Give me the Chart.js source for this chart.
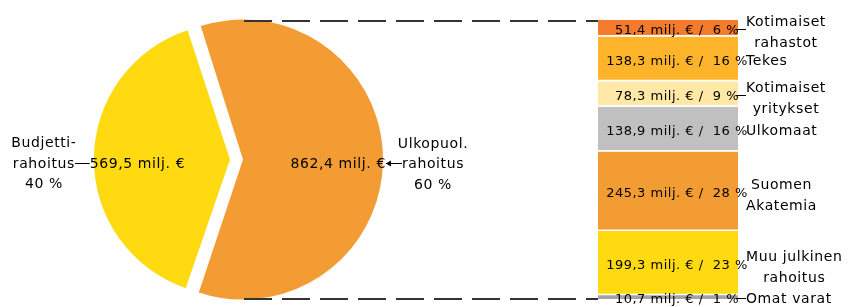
<!DOCTYPE html>
<html>
<head>
<meta charset="utf-8">
<script src="https://cdn.jsdelivr.net/npm/chart.js@4.4.1/dist/chart.umd.min.js"></script>
<style>
  html, body { margin: 0; padding: 0; background: #fff; }
  #wrap { position: relative; width: 849px; height: 307px; }
  #wrap canvas { position: absolute; left: 0; top: 0; }
</style>
</head>
<body>
<div id="wrap">
  <canvas id="barChart" width="849" height="307"></canvas>
  <canvas id="pieChart" width="849" height="307"></canvas>
</div>
<script>
// ----- data -----
// pie: external vs. budget funding (milj. €)
const pieNames = [["Ulkopuol.", "rahoitus", "60 %"], ["Budjetti-", "rahoitus", "40 %"]];
const pieValues = [862.4, 569.5];
const pieColors = ["#F39C33", "#FFDA10"];

// bar: breakdown of external funding, listed bottom to top
const segNames = [["Omat varat"], ["Muu julkinen", "rahoitus"], ["Suomen", "Akatemia"], ["Ulkomaat"],
                  ["Kotimaiset", "yritykset"], ["Tekes"], ["Kotimaiset", "rahastot"]];
const segValues = [10.7, 199.3, 245.3, 138.9, 78.3, 138.3, 51.4];
const segPercents = [1, 23, 28, 16, 9, 16, 6];
const segColors = ["#A3A3A3", "#FFDA10", "#F39C33", "#C0C0C0", "#FFE8A6", "#FDB42A", "#F47A2C"];

const FAM = '"DejaVu Sans"';
const fmt = (v) => v.toFixed(1).replace(".", ",");
Chart.defaults.font.family = FAM;

// ----- bar labels -----
const barLabels = {
  id: "barLabels",
  afterDatasetsDraw(chart) {
    const ctx = chart.ctx;
    ctx.save();
    ctx.fillStyle = "#000"; ctx.strokeStyle = "#000"; ctx.lineWidth = 1;
    ctx.textBaseline = "alphabetic";
    segValues.forEach((v, i) => {
      const el = chart.getDatasetMeta(i).data[0];
      const mid = (el.y + el.base) / 2 + 1;
      const right = el.x + el.width / 2;
      const lines = segNames[i];

      ctx.font = `13px ${FAM}`; ctx.letterSpacing = "0.5px"; ctx.textAlign = "center";
      ctx.fillText(`${fmt(v)} milj. € /  ${segPercents[i]} %`, el.x + 9, mid + 5);

      // short leader only where the label block is centred on the row
      if (lines.length > 1 && el.base - el.y < 40 || i === 0) {
        ctx.beginPath(); ctx.moveTo(right - 2, Math.round(mid) + 0.5); ctx.lineTo(right + 8, Math.round(mid) + 0.5); ctx.stroke();
      }

      ctx.font = `14px ${FAM}`; ctx.letterSpacing = "0.6px";
      const w = Math.max(...lines.map(s => ctx.measureText(s).width));
      const cy = mid + (lines.length > 1 ? 2 : 0);
      const top = cy - (lines.length - 1) * 21 / 2;
      lines.forEach((s, k) => ctx.fillText(s, right + 8 + w / 2, top + k * 21 + 5));
    });
    ctx.restore();
  }
};

const barChart = new Chart(document.getElementById("barChart"), {
  type: "bar",
  data: {
    labels: ["Ulkopuolinen rahoitus"],
    datasets: segValues.map((v, i) => ({
      label: segNames[i].join(" "), data: [v], backgroundColor: segColors[i],
      borderColor: "#fff", borderSkipped: false,
      borderWidth: i === 0 ? 0 : { top: 0, bottom: 2, left: 0, right: 0 }
    }))
  },
  options: {
    responsive: false, animation: false,
    layout: { padding: { left: 598, right: 111, top: 20, bottom: 8 } },
    datasets: { bar: { barPercentage: 1, categoryPercentage: 1 } },
    plugins: { legend: { display: false }, tooltip: { enabled: false } },
    scales: {
      x: { display: false, stacked: true },
      y: { display: false, stacked: true, min: 0, max: segValues.reduce((s, v) => s + v, 0) }
    }
  },
  plugins: [barLabels]
});

// ----- pie labels + connector lines -----
const pieLabels = {
  id: "pieLabels",
  afterDatasetsDraw(chart) {
    const ctx = chart.ctx;
    const arcs = chart.getDatasetMeta(0).data;
    ctx.save();
    ctx.fillStyle = "#000"; ctx.strokeStyle = "#000"; ctx.lineWidth = 1;
    ctx.font = `14px ${FAM}`; ctx.letterSpacing = "0.6px";
    ctx.textAlign = "center"; ctx.textBaseline = "alphabetic";

    const geo = arcs.map((el) => {
      const mid = (el.startAngle + el.endAngle) / 2;
      const off = (el.options.offset || 0) / 4;
      const r = el.outerRadius + off * (1 - Math.sin(Math.min(Math.PI, el.circumference)));
      return { mid, r, cx: el.x + Math.cos(mid) * off, cy: el.y + Math.sin(mid) * off };
    });

    geo.forEach((g, i) => {
      const dir = Math.cos(g.mid) >= 0 ? 1 : -1;
      const valText = `${fmt(pieValues[i])} milj. €`;
      const vx = g.cx + dir * g.r * 0.68;
      const ox = g.cx + dir * (g.r + 50);
      const base = g.cy + 8.5;
      ctx.fillText(valText, vx, base);
      pieNames[i].forEach((s, k) => ctx.fillText(s, ox, base - 20.5 + k * 20.5));

      // connector from value to outer label
      const vw = ctx.measureText(valText).width, ow = ctx.measureText(pieNames[i][1]).width;
      const x1 = vx + dir * vw / 2, x2 = ox - dir * ow / 2;
      const ly = Math.round(base - 5) + 0.5;
      ctx.beginPath(); ctx.moveTo(x1, ly); ctx.lineTo(x2, ly); ctx.stroke();
      if (dir > 0) {
        ctx.beginPath(); ctx.moveTo(x1, ly); ctx.lineTo(x1 + 5, ly - 3); ctx.lineTo(x1 + 5, ly + 3); ctx.closePath(); ctx.fill();
      }
    });

    // dashed lines from the exploded slice to the bar
    const g = geo[0];
    const topEl = barChart.getDatasetMeta(segValues.length - 1).data[0];
    const botEl = barChart.getDatasetMeta(0).data[0];
    const barLeft = topEl.x - topEl.width / 2;
    ctx.strokeStyle = "#333"; ctx.lineWidth = 2; ctx.setLineDash([28, 10]);
    ctx.beginPath();
    ctx.moveTo(g.cx + 1, topEl.y + 1); ctx.lineTo(barLeft, topEl.y + 1);
    ctx.moveTo(g.cx + 1, botEl.base); ctx.lineTo(barLeft, botEl.base);
    ctx.stroke();
    ctx.restore();
  }
};

new Chart(document.getElementById("pieChart"), {
  type: "pie",
  data: {
    labels: pieNames.map(n => n.slice(0, 2).join(" ")),
    datasets: [{ data: pieValues, backgroundColor: pieColors, borderWidth: 0, offset: 26 }]
  },
  options: {
    responsive: false, animation: false, rotation: -18, radius: 133.5,
    layout: { padding: { left: 0, right: 376, top: 12, bottom: 0 } },
    plugins: { legend: { display: false }, tooltip: { enabled: false } }
  },
  plugins: [pieLabels]
});
</script>
</body>
</html>
